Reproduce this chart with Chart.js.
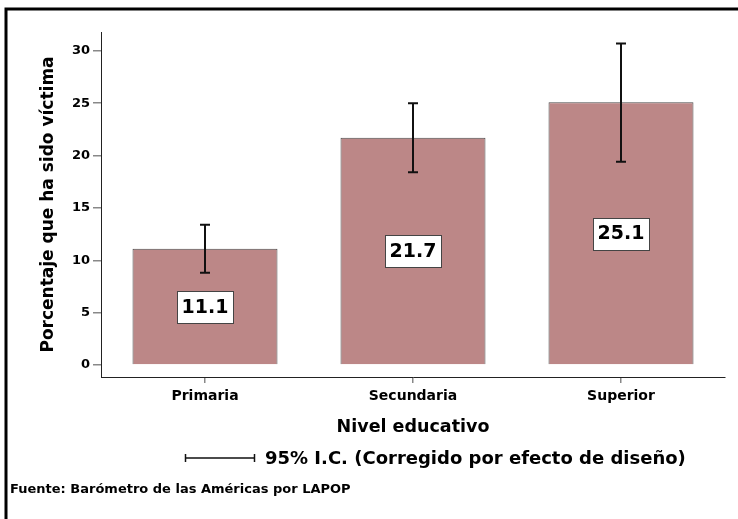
<!DOCTYPE html>
<html>
<head>
<meta charset="utf-8">
<script src="https://cdn.jsdelivr.net/npm/chart.js@4"></script>
<style>
html,body{margin:0;padding:0;background:#fff;}
#wrap{width:738px;height:519px;}
</style>
</head>
<body>
<div id="wrap"><canvas id="c" width="738" height="519"></canvas></div>
<script>
const categories = ['Primaria', 'Secundaria', 'Superior'];
const values = [11.1, 21.7, 25.1];
const ciLow = [8.8, 18.4, 19.4];
const ciHigh = [13.4, 25.0, 30.7];
const yTicks = [0, 5, 10, 15, 20, 25, 30];
const yTitle = 'Porcentaje que ha sido víctima';
const xTitle = 'Nivel educativo';
const legendText = '95% I.C. (Corregido por efecto de diseño)';
const sourceText = 'Fuente: Barómetro de las Américas por LAPOP';

const FONT = '"DejaVu Sans", "Liberation Sans", Arial, sans-serif';

const framePlugin = {
  id: 'frame',
  beforeDraw(chart) {
    const ctx = chart.ctx;
    ctx.save();
    ctx.fillStyle = '#fff';
    ctx.fillRect(0, 0, chart.width, chart.height);
    ctx.strokeStyle = '#000';
    ctx.lineWidth = 3;
    ctx.beginPath();
    ctx.moveTo(6, chart.height);
    ctx.lineTo(6, 9);
    ctx.lineTo(chart.width, 9);
    ctx.stroke();
    ctx.restore();
  }
};

const errorPlugin = {
  id: 'errbars',
  afterDatasetsDraw(chart) {
    const ctx = chart.ctx;
    const meta = chart.getDatasetMeta(0);
    const y = chart.scales.y;
    ctx.save();
    ctx.strokeStyle = '#111';
    ctx.lineWidth = 2;
    meta.data.forEach((bar, i) => {
      const x = bar.x;
      const yl = y.getPixelForValue(ciLow[i]);
      const yh = y.getPixelForValue(ciHigh[i]);
      ctx.beginPath();
      ctx.moveTo(x, yl); ctx.lineTo(x, yh);
      ctx.moveTo(x - 5, yl); ctx.lineTo(x + 5, yl);
      ctx.moveTo(x - 5, yh); ctx.lineTo(x + 5, yh);
      ctx.stroke();
    });
    ctx.font = 'bold 19px ' + FONT;
    ctx.textAlign = 'center';
    ctx.textBaseline = 'middle';
    meta.data.forEach((bar, i) => {
      const txt = values[i].toFixed(1);
      const cy = y.getPixelForValue(values[i] / 2);
      const w = Math.round(ctx.measureText(txt).width + 9);
      const h = 32;
      const left = Math.round(bar.x - w / 2);
      const top = Math.round(cy - h / 2);
      ctx.fillStyle = '#fff';
      ctx.fillRect(left, top, w, h);
      ctx.strokeStyle = '#444';
      ctx.lineWidth = 1;
      ctx.strokeRect(left + 0.5, top + 0.5, w, h);
      ctx.fillStyle = '#000';
      ctx.fillText(txt, bar.x, cy + 1);
    });
    ctx.restore();
  },
  afterDraw(chart) {
    const ctx = chart.ctx;
    ctx.save();
    ctx.strokeStyle = '#111';
    ctx.lineWidth = 1.5;
    ctx.beginPath();
    ctx.moveTo(185, 458); ctx.lineTo(255, 458);
    ctx.moveTo(185.5, 454); ctx.lineTo(185.5, 462);
    ctx.moveTo(254.5, 454); ctx.lineTo(254.5, 462);
    ctx.stroke();
    ctx.fillStyle = '#000';
    ctx.font = 'bold 18px ' + FONT;
    ctx.textAlign = 'left';
    ctx.textBaseline = 'middle';
    ctx.fillText(legendText, 265, 459);
    ctx.font = 'bold 13px ' + FONT;
    ctx.fillText(sourceText, 10, 490);
    ctx.restore();
  }
};

new Chart(document.getElementById('c'), {
  type: 'bar',
  data: {
    labels: categories,
    datasets: [{
      data: values,
      backgroundColor: 'rgb(188,135,135)',
      borderColor: '#4a4a4a',
      borderWidth: 1,
      barPercentage: 0.697,
      categoryPercentage: 1
    }]
  },
  options: {
    responsive: false,
    animation: false,
    devicePixelRatio: 1,
    layout: { padding: { top: 32, right: 13, left: 34, bottom: 81 } },
    plugins: { legend: { display: false }, tooltip: { enabled: false } },
    scales: {
      x: {
        afterFit(s) { s.height = 61; },
        grid: { offset: false, drawOnChartArea: false, drawTicks: true, tickLength: 6, color: '#888', lineWidth: 1.5 },
        border: { display: true, color: '#222', width: 1 },
        ticks: { color: '#000', padding: 5, font: { family: FONT, size: 14, weight: 'bold' } },
        title: { display: true, text: xTitle, color: '#000', padding: { top: 0, bottom: 0 }, font: { family: FONT, size: 17.5, weight: 'bold' } }
      },
      y: {
        min: -1.15,
        max: 31.8,
        afterFit(s) { s.width = 67; },
        afterBuildTicks(s) { s.ticks = yTicks.map(v => ({ value: v })); },
        grid: { drawOnChartArea: false, drawTicks: true, tickLength: 8, color: '#888', lineWidth: 1.5 },
        border: { display: true, color: '#222', width: 1 },
        ticks: { color: '#000', padding: 3, font: { family: FONT, size: 13, weight: 'bold' } },
        title: { display: true, text: yTitle, color: '#000', padding: { top: 4, bottom: 0 }, font: { family: FONT, size: 17, weight: 'bold' } }
      }
    }
  },
  plugins: [framePlugin, errorPlugin]
});
</script>
</body>
</html>
